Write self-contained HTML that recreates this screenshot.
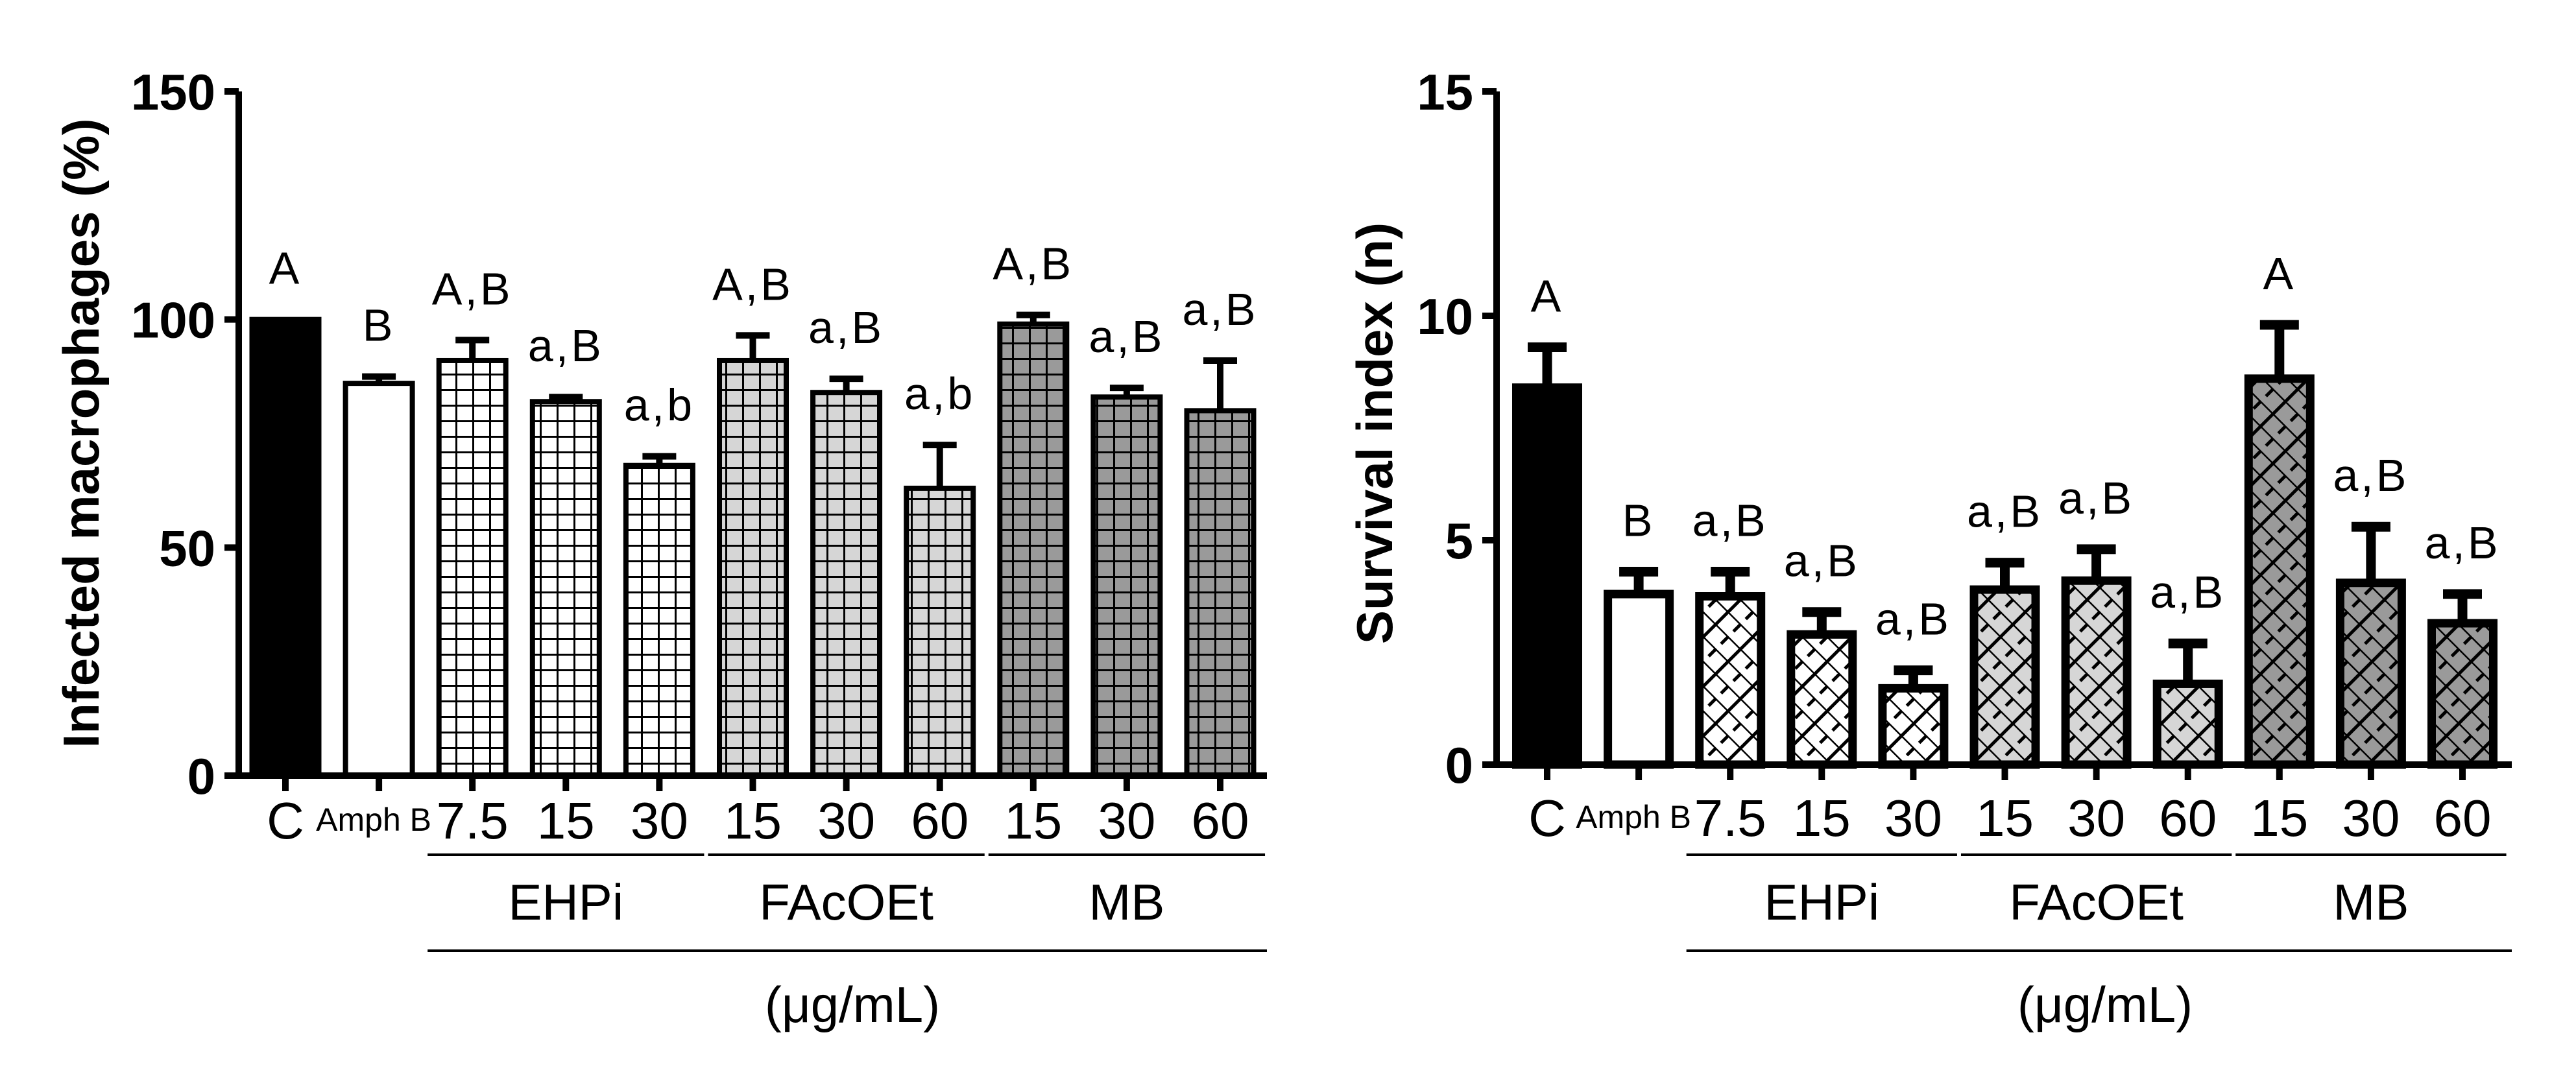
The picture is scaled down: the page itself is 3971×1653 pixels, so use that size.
<!DOCTYPE html>
<html><head><meta charset="utf-8"><style>
html,body{margin:0;padding:0;background:#fff;}
svg{display:block;font-family:"Liberation Sans",Arial,sans-serif;}
</style></head><body>
<svg id="fig" width="3971" height="1653" viewBox="0 0 3971 1653" xmlns="http://www.w3.org/2000/svg">
<defs>
<pattern id="gridW" width="26" height="24" patternUnits="userSpaceOnUse"><rect width="26" height="24" fill="#fff"/><path d="M0 0H26M0 0V24" stroke="#000" stroke-width="6"/></pattern>
<pattern id="gridL" width="26" height="24" patternUnits="userSpaceOnUse"><rect width="26" height="24" fill="#d6d6d6"/><path d="M0 0H26M0 0V24" stroke="#000" stroke-width="6"/></pattern>
<pattern id="gridD" width="26" height="24" patternUnits="userSpaceOnUse"><rect width="26" height="24" fill="#9a9a9a"/><path d="M0 0H26M0 0V24" stroke="#000" stroke-width="6"/></pattern>
<pattern id="brickW" width="27" height="54" patternUnits="userSpaceOnUse" patternTransform="rotate(-45)"><rect width="27" height="54" fill="#fff"/><path d="M0 0V54M0 13H27M13 40H27" stroke="#000" stroke-width="5"/></pattern>
<pattern id="brickL" width="27" height="54" patternUnits="userSpaceOnUse" patternTransform="rotate(-45)"><rect width="27" height="54" fill="#d6d6d6"/><path d="M0 0V54M0 13H27M13 40H27" stroke="#000" stroke-width="5"/></pattern>
<pattern id="brickD" width="27" height="54" patternUnits="userSpaceOnUse" patternTransform="rotate(-45)"><rect width="27" height="54" fill="#9a9a9a"/><path d="M0 0V54M0 13H27M13 40H27" stroke="#000" stroke-width="5"/></pattern>
</defs>
</svg>
<script>
const categories = ["C","Amph B","7.5","15","30","15","30","60","15","30","60"];
const groupNames = ["EHPi","FAcOEt","MB"];
const infectedValues = [100,86,91,82,68,91,84,63,99,83,80];
const infectedErrors = [0,1.5,4.5,1,2,5.5,3,9.5,2,2,11];
const infectedLabels = ["A","B","A,B","a,B","a,b","A,B","a,B","a,b","A,B","a,B","a,B"];
const infectedTicks = [0,50,100,150];
const survivalValues = [8.4,3.8,3.75,2.9,1.7,3.9,4.1,1.8,8.6,4.05,3.15];
const survivalErrors = [0.9,0.5,0.55,0.5,0.4,0.6,0.7,0.9,1.2,1.25,0.65];
const survivalLabels = ["A","B","a,B","a,B","a,B","a,B","a,B","a,B","A","a,B","a,B"];
const survivalTicks = [0,5,10,15];

const NS="http://www.w3.org/2000/svg";
const svg=document.getElementById('fig');
function mk(tag,attrs,parent,text){const e=document.createElementNS(NS,tag);for(const k in attrs)e.setAttribute(k,attrs[k]);if(text!==undefined)e.textContent=text;(parent||svg).appendChild(e);return e;}

function chart(cfg){
  const g=mk('g',{});
  
  
  const y=v=>cfg.y0-(v-0)/(cfg.max)*(cfg.y0-cfg.y1);
  const x=i=>cfg.c0+i*cfg.step;
  cfg.values.forEach((v,i)=>{
    const fill=i===0?'#000':(i===1?'#fff':cfg.fills[Math.floor((i-2)/3)]);
    const top=y(v), errTop=y(v+cfg.errors[i]);
    if(cfg.errors[i]>0){
      const el=mk('path',{d:`M${x(i)} ${top}V${errTop}M${x(i)-cfg.cap} ${errTop}H${x(i)+cfg.cap}`,stroke:'#000','stroke-width':cfg.sw+2,fill:'none'},g);
      
      
    }
    const r=mk('rect',{x:x(i)-cfg.bw/2,y:top,width:cfg.bw,height:cfg.y0-top,fill:fill,stroke:'#000','stroke-width':cfg.sw},g);
    
    
    const t=mk('text',{x:x(i),y:errTop-55,'font-size':70,'text-anchor':'middle','letter-spacing':4},g,cfg.labels[i]);
    
    
    const tk=mk('line',{x1:x(i),x2:x(i),y1:cfg.y0,y2:cfg.y0+24,stroke:'#000','stroke-width':10},g);
    
    
    const lab=mk('text',{x:x(i)+(i===1?-8:0),y:cfg.tickY+(i===1?-12:0),'font-size':i===1?50:80,'text-anchor':'middle'},g,categories[i]);
    
    
  });
  const ax=mk('path',{d:`M${cfg.ax} ${cfg.y1}V${cfg.y0}H${cfg.xEnd}`,stroke:'#000','stroke-width':10,fill:'none'},g);
  
  
  cfg.ticks.forEach(tv=>{
    const l=mk('line',{x1:cfg.ax-22,x2:cfg.ax,y1:y(tv),y2:y(tv),stroke:'#000','stroke-width':10},g);
    
    
    const t=mk('text',{x:cfg.ax-36,y:y(tv)+28,'font-size':78,'font-weight':'bold','text-anchor':'end'},g,String(tv));
    
    
  });
  const yt=mk('text',{x:0,y:0,'font-size':78,'font-weight':'bold','text-anchor':'middle',transform:`translate(${cfg.titleX},${cfg.titleY}) rotate(-90)`},g,cfg.title);
  
  
  groupNames.forEach((n,gi)=>{
    const a=x(2+gi*3)-cfg.step/2+3, b=x(4+gi*3)+cfg.step/2-3;
    const l=mk('line',{x1:a,x2:b,y1:cfg.gY,y2:cfg.gY,stroke:'#000','stroke-width':4},g);
    
    
    const t=mk('text',{x:(a+b)/2,y:cfg.gY+100,'font-size':78,'text-anchor':'middle'},g,n);
    
    
  });
  const la=x(2)-cfg.step/2+3, lb=cfg.xEnd;
  const ll=mk('line',{x1:la,x2:lb,y1:1466,y2:1466,stroke:'#000','stroke-width':4},g);
  
  
  const u=mk('text',{x:cfg.unitX,y:1576,'font-size':78,'text-anchor':'middle'},g,'(μg/mL)');
  
  
}

chart({name:'infected-macrophages-chart',values:infectedValues,errors:infectedErrors,labels:infectedLabels,ticks:infectedTicks,max:150,
  y0:1196,y1:141,ax:368,xEnd:1953,c0:440,step:144.1,bw:103,sw:8,cap:26,fills:['url(#gridW)','url(#gridL)','url(#gridD)'],
  tickY:1293,gY:1318,unitX:1314,title:'Infected macrophages (%)',titleX:152,titleY:668});
chart({name:'survival-index-chart',values:survivalValues,errors:survivalErrors,labels:survivalLabels,ticks:survivalTicks,max:15,
  y0:1179,y1:141,ax:2307,xEnd:3872,c0:2385,step:141.1,bw:95,sw:13,cap:30,fills:['url(#brickW)','url(#brickL)','url(#brickD)'],
  tickY:1289,gY:1318,unitX:3245,title:'Survival index (n)',titleX:2146,titleY:668});
</script>
</body></html>
